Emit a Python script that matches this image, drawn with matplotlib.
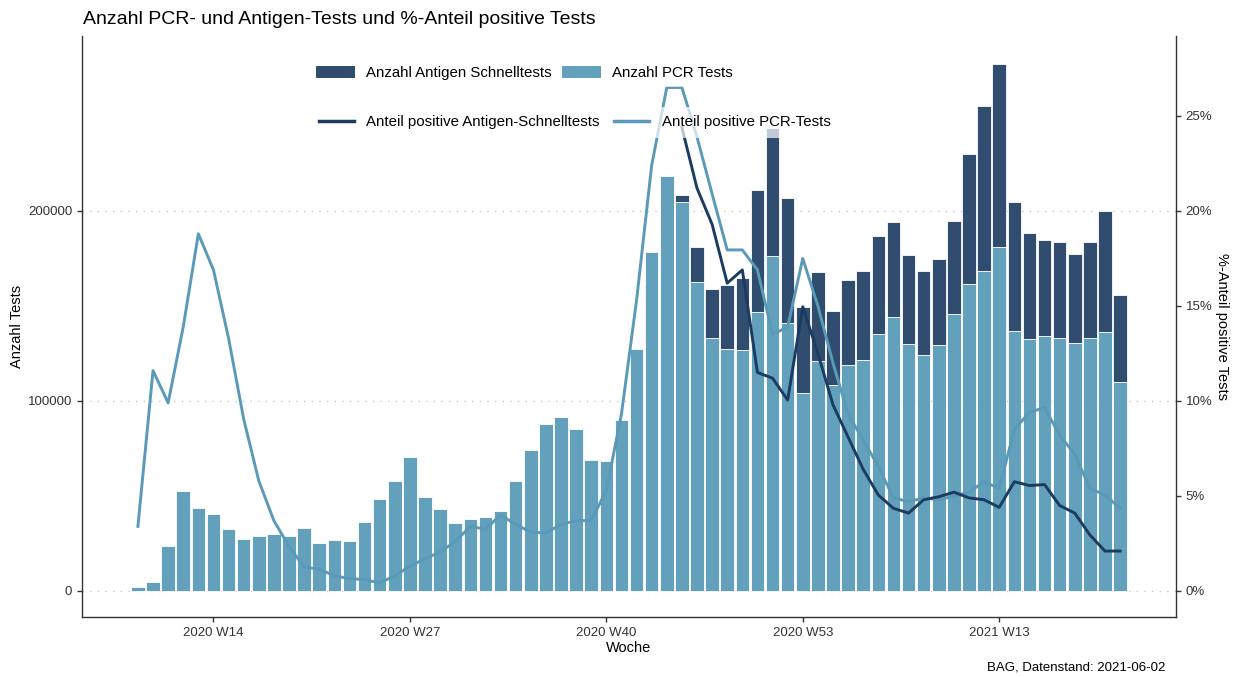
import numpy as np
import matplotlib.pyplot as plt
from matplotlib.patches import Patch
from matplotlib.lines import Line2D

plt.rcParams['font.family'] = ['Liberation Sans', 'DejaVu Sans']

# Kalenderwochen 2020 W9 .. 2021 W21
wochen = [f"2020 W{w}" for w in range(9, 54)] + [f"2021 W{w}" for w in range(1, 22)]

# Anzahl PCR Tests pro Woche
pcr_tests = [
    2100, 4700, 23700, 52600, 43700, 40300, 32600, 27400, 28800, 30200,
    28800, 33200, 25300, 26800, 26300, 36100, 48600, 57700, 70500, 49600,
    42900, 35600, 37700, 38900, 42300, 57900, 74000, 87900, 91400, 85300,
    68700, 68200, 90200, 127200, 178600, 218400, 204600, 162400, 133300, 127400,
    126900, 146700, 176500, 141200, 104300,
    121000, 108400, 118700, 121400, 135000, 144300, 130200, 124300, 129700, 145600,
    161700, 168300, 180900, 136800, 132500, 134000, 133100, 130300, 133100, 136300,
    110000,
]

# Antigen Schnelltests ab 2020 W45
antigen_start = "2020 W45"
antigen_tests = [
    3600, 18800, 25500, 33600, 37900, 64300, 67400, 65800, 45300,
    46800, 39200, 44800, 47000, 51700, 50100, 46800, 44300, 45000, 49000,
    68300, 86700, 96700, 68100, 55800, 50600, 50500, 47000, 50500, 63900,
    45800,
]

# Anteil positive PCR-Tests in %
pcr_positiv = [
    3.4, 11.6, 9.9, 13.9, 18.8, 16.9, 13.3, 9.05, 5.8, 3.7,
    2.35, 1.25, 1.15, 0.8, 0.65, 0.6, 0.42, 0.8, 1.3, 1.7,
    2.05, 2.6, 3.4, 3.25, 4.0, 3.5, 3.1, 3.05, 3.5, 3.7,
    3.7, 5.3, 9.3, 15.3, 22.4, 26.5, 26.5, 23.9, 20.9, 17.95,
    17.95, 16.9, 13.5, 13.9, 17.5,
    15.0, 12.0, 9.3, 7.95, 6.55, 4.9, 4.7, 4.9, 4.8, 5.0,
    5.2, 5.75, 5.4, 8.5, 9.4, 9.65, 8.2, 7.2, 5.4, 5.05,
    4.35,
]

# Anteil positive Antigen-Schnelltests in % (ab 2020 W45)
antigen_positiv = [
    24.4, 21.2, 19.3, 16.2, 16.9, 11.5, 11.2, 10.05, 14.96,
    12.5, 9.8, 8.1, 6.4, 5.05, 4.35, 4.1, 4.8, 4.96, 5.2,
    4.9, 4.8, 4.4, 5.75, 5.55, 5.6, 4.5, 4.1, 2.95, 2.1,
    2.1,
]

farbe_pcr = '#62a0bb'
farbe_antigen = '#304d70'
farbe_linie_pcr = '#5a9ab8'
farbe_linie_antigen = '#1b3c60'

W, H = 1234, 677
fig = plt.figure(figsize=(W / 100, H / 100), dpi=100)
ax = fig.add_axes([82 / W, 1 - 617 / H, (1176 - 82) / W, (617 - 36) / H])

x = np.arange(len(wochen))
i0 = wochen.index(antigen_start)
x_ag = x[i0:i0 + len(antigen_tests)]
pcr = np.array(pcr_tests, dtype=float)

ax.bar(x, pcr, width=0.9, color=farbe_pcr, edgecolor='white', linewidth=0.6)
ax.bar(x_ag, antigen_tests, bottom=pcr[x_ag], width=0.9, color=farbe_antigen,
       edgecolor='white', linewidth=0.6)

ax.set_xlim(-3.7, len(wochen) - 1 + 3.7)
ax.set_ylim(-13700, 292100)
ax.set_yticks([0, 100000, 200000])
ax.set_yticklabels(['0', '100000', '200000'])
tick_pos = [wochen.index(w) for w in ["2020 W14", "2020 W27", "2020 W40", "2020 W53", "2021 W13"]]
ax.set_xticks(tick_pos)
ax.set_xticklabels([wochen[i] for i in tick_pos])
ax.set_axisbelow(True)
ax.yaxis.grid(True, linestyle=(0, (1, 4.5)), color='#c8c8c8', linewidth=1.0)

ax2 = ax.twinx()
ax2.plot(x, pcr_positiv, color=farbe_linie_pcr, linewidth=2.1, solid_joinstyle='round')
ax2.plot(x_ag, antigen_positiv, color=farbe_linie_antigen, linewidth=2.1, solid_joinstyle='round')
ax2.set_ylim(-1.37, 29.21)
ax2.set_yticks([0, 5, 10, 15, 20, 25])
ax2.set_yticklabels([f"{v}%" for v in [0, 5, 10, 15, 20, 25]])

for a in (ax, ax2):
    a.spines['top'].set_visible(False)
    a.tick_params(colors='#333333', labelsize=9.5, length=3.5, width=1.0)
    for s in a.spines.values():
        s.set_color('#333333')
        s.set_linewidth(1.0)
ax.spines['right'].set_visible(False)
ax2.spines['left'].set_visible(False)
ax2.spines['bottom'].set_visible(False)

ax.set_xlabel('Woche', fontsize=10.5, labelpad=2)
ax.set_ylabel('Anzahl Tests', fontsize=10.5, labelpad=3)
ax2.set_ylabel('%-Anteil positive Tests', fontsize=10.5, rotation=270, labelpad=12)

fig.text(83 / W, 1 - 19 / H, 'Anzahl PCR- und Antigen-Tests und %-Anteil positive Tests',
         ha='left', va='center', fontsize=14)
fig.text(1165 / W, 1 - 667 / H, 'BAG, Datenstand: 2021-06-02', ha='right', va='center', fontsize=9.5)

# Legenden
leg1 = ax2.legend(handles=[Patch(facecolor=farbe_antigen, label='Anzahl Antigen Schnelltests'),
                           Patch(facecolor=farbe_pcr, label='Anzahl PCR Tests')],
                  ncol=2, loc='upper left', bbox_to_anchor=(309 / W, 1 - 59 / H),
                  bbox_transform=fig.transFigure, fontsize=10.8, frameon=True, fancybox=False,
                  facecolor='white', edgecolor='none', framealpha=0.7, borderpad=0.45,
                  handlelength=2.6, handleheight=0.85, handletextpad=0.75, columnspacing=0.7,
                  borderaxespad=0)
ax2.add_artist(leg1)
ax2.legend(handles=[Line2D([], [], color=farbe_linie_antigen, lw=2.5, label='Anteil positive Antigen-Schnelltests'),
                    Line2D([], [], color=farbe_linie_pcr, lw=2.5, label='Anteil positive PCR-Tests')],
           ncol=2, loc='upper left', bbox_to_anchor=(311 / W, 1 - 107 / H),
           bbox_transform=fig.transFigure, fontsize=10.8, frameon=True, fancybox=False,
           facecolor='white', edgecolor='none', framealpha=0.7, borderpad=0.55,
           handlelength=2.3, handletextpad=0.85, columnspacing=0.95, borderaxespad=0)

fig.savefig('out.png', dpi=100)
